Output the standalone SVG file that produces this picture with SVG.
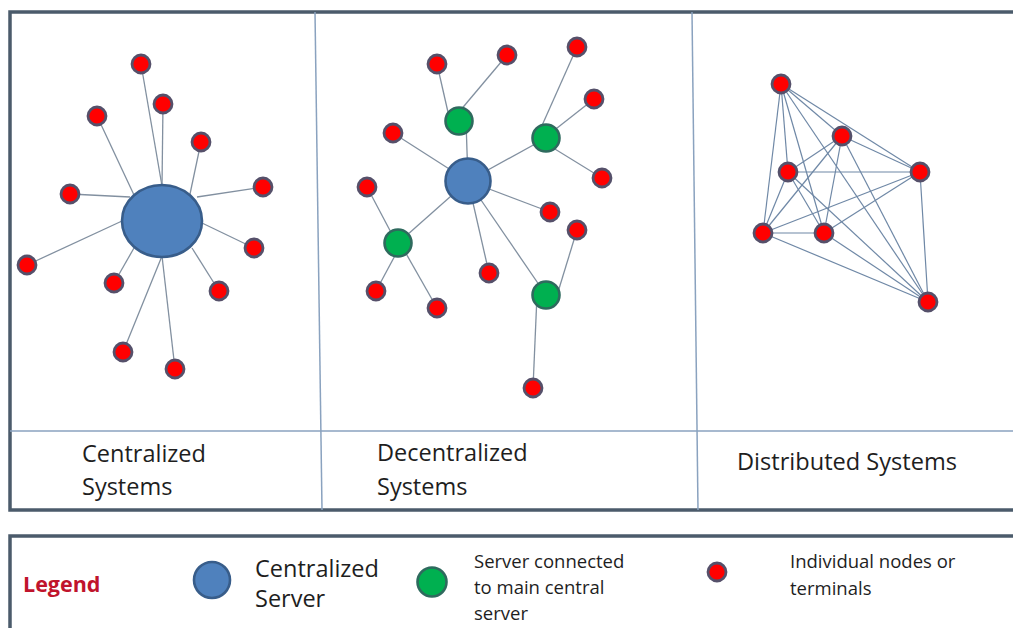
<svg xmlns="http://www.w3.org/2000/svg" width="1013" height="628" viewBox="0 0 1013 628">
<style>
.frame{fill:#ffffff;stroke:#4b5b6b;stroke-width:3.5}
.div{fill:none;stroke:#8aa2bf;stroke-width:1.5}
.edge{stroke:#8290a0;stroke-width:1.3;fill:none}
.edge2{stroke:#6f88a6;stroke-width:1.2;fill:none}
.red{fill:#ff0000;stroke:#55506a;stroke-width:2.8}
.green{fill:#00b050;stroke:#2f6a5e;stroke-width:2.6}
.blue{fill:#4f81bd;stroke:#385d8a;stroke-width:2.6}
.lbl{font-family:"Open Sans","Liberation Sans",sans-serif;font-size:23.5px;fill:#1e1e1e}
.leg{font-family:"Open Sans","Liberation Sans",sans-serif;font-size:18.5px;fill:#1e1e1e}
.legt{font-family:"Open Sans","Liberation Sans",sans-serif;font-size:21.5px;font-weight:bold;fill:#c0142c}
</style>
<rect x="0" y="0" width="1013" height="628" fill="#ffffff"/>
<g id="frame">
<rect class="frame" x="10" y="12" width="1020" height="498"/>
<line class="div" x1="10" y1="431" x2="1013" y2="431"/>
<line class="div" x1="315" y1="12" x2="322" y2="510"/>
<line class="div" x1="692" y1="12" x2="698" y2="510"/>
</g>
<g id="legend-box">
<rect class="frame" x="10" y="536" width="1020" height="110"/>
</g>
<g id="connectors">
<line class="edge" x1="141" y1="64" x2="162" y2="186"/>
<line class="edge" x1="163" y1="104" x2="162" y2="186"/>
<line class="edge" x1="97" y1="116" x2="134" y2="195"/>
<line class="edge" x1="201" y1="142" x2="190" y2="194"/>
<line class="edge" x1="70" y1="194" x2="130" y2="197"/>
<line class="edge" x1="263" y1="187" x2="197" y2="197"/>
<line class="edge" x1="27" y1="265" x2="122" y2="221"/>
<line class="edge" x1="254" y1="248" x2="202" y2="223"/>
<line class="edge" x1="114" y1="283" x2="134" y2="248"/>
<line class="edge" x1="219" y1="291" x2="192" y2="248"/>
<line class="edge" x1="123" y1="352" x2="162" y2="256"/>
<line class="edge" x1="175" y1="369" x2="162" y2="256"/>
<line class="edge" x1="468" y1="181" x2="466" y2="121"/>
<line class="edge" x1="468" y1="181" x2="546" y2="138"/>
<line class="edge" x1="468" y1="181" x2="398" y2="243"/>
<line class="edge" x1="468" y1="181" x2="546" y2="295"/>
<line class="edge" x1="468" y1="181" x2="393" y2="133"/>
<line class="edge" x1="468" y1="181" x2="550" y2="212"/>
<line class="edge" x1="468" y1="181" x2="489" y2="273"/>
<line class="edge" x1="437" y1="64" x2="450" y2="121"/>
<line class="edge" x1="507" y1="55" x2="459" y2="112"/>
<line class="edge" x1="577" y1="47" x2="540" y2="130"/>
<line class="edge" x1="594" y1="99" x2="552" y2="132"/>
<line class="edge" x1="602" y1="178" x2="550" y2="146"/>
<line class="edge" x1="367" y1="187" x2="395" y2="240"/>
<line class="edge" x1="376" y1="291" x2="398" y2="250"/>
<line class="edge" x1="437" y1="308" x2="404" y2="250"/>
<line class="edge" x1="577" y1="230" x2="558" y2="292"/>
<line class="edge" x1="533" y1="388" x2="537" y2="295"/>
<line class="edge2" x1="781" y1="84" x2="842" y2="136"/>
<line class="edge2" x1="781" y1="84" x2="788" y2="172"/>
<line class="edge2" x1="781" y1="84" x2="920" y2="172"/>
<line class="edge2" x1="781" y1="84" x2="763" y2="233"/>
<line class="edge2" x1="781" y1="84" x2="824" y2="233"/>
<line class="edge2" x1="781" y1="84" x2="928" y2="302"/>
<line class="edge2" x1="842" y1="136" x2="788" y2="172"/>
<line class="edge2" x1="842" y1="136" x2="920" y2="172"/>
<line class="edge2" x1="842" y1="136" x2="763" y2="233"/>
<line class="edge2" x1="842" y1="136" x2="824" y2="233"/>
<line class="edge2" x1="842" y1="136" x2="928" y2="302"/>
<line class="edge2" x1="788" y1="172" x2="920" y2="172"/>
<line class="edge2" x1="788" y1="172" x2="763" y2="233"/>
<line class="edge2" x1="788" y1="172" x2="824" y2="233"/>
<line class="edge2" x1="788" y1="172" x2="928" y2="302"/>
<line class="edge2" x1="920" y1="172" x2="763" y2="233"/>
<line class="edge2" x1="920" y1="172" x2="824" y2="233"/>
<line class="edge2" x1="920" y1="172" x2="928" y2="302"/>
<line class="edge2" x1="763" y1="233" x2="824" y2="233"/>
<line class="edge2" x1="763" y1="233" x2="928" y2="302"/>
<line class="edge2" x1="824" y1="233" x2="928" y2="302"/>
</g>
<g id="centralized">
<g id="c-server"><ellipse class="blue" cx="162" cy="221" rx="40" ry="36"/></g>
<g id="c-n1"><circle class="red" cx="141" cy="64" r="9"/></g>
<g id="c-n2"><circle class="red" cx="163" cy="104" r="9"/></g>
<g id="c-n3"><circle class="red" cx="97" cy="116" r="9"/></g>
<g id="c-n4"><circle class="red" cx="201" cy="142" r="9"/></g>
<g id="c-n5"><circle class="red" cx="70" cy="194" r="9"/></g>
<g id="c-n6"><circle class="red" cx="263" cy="187" r="9"/></g>
<g id="c-n7"><circle class="red" cx="27" cy="265" r="9"/></g>
<g id="c-n8"><circle class="red" cx="254" cy="248" r="9"/></g>
<g id="c-n9"><circle class="red" cx="114" cy="283" r="9"/></g>
<g id="c-n10"><circle class="red" cx="219" cy="291" r="9"/></g>
<g id="c-n11"><circle class="red" cx="123" cy="352" r="9"/></g>
<g id="c-n12"><circle class="red" cx="175" cy="369" r="9"/></g>
</g>
<g id="decentralized">
<g id="d-server"><circle class="blue" cx="468" cy="181" r="22.5"/></g>
<g id="d-g1"><circle class="green" cx="459" cy="121" r="13.5"/></g>
<g id="d-g2"><circle class="green" cx="546" cy="138" r="13.5"/></g>
<g id="d-g3"><circle class="green" cx="398" cy="243" r="13.5"/></g>
<g id="d-g4"><circle class="green" cx="546" cy="295" r="13.5"/></g>
<g id="d-n1"><circle class="red" cx="437" cy="64" r="9"/></g>
<g id="d-n2"><circle class="red" cx="507" cy="55" r="9"/></g>
<g id="d-n3"><circle class="red" cx="577" cy="47" r="9"/></g>
<g id="d-n4"><circle class="red" cx="594" cy="99" r="9"/></g>
<g id="d-n5"><circle class="red" cx="393" cy="133" r="9"/></g>
<g id="d-n6"><circle class="red" cx="602" cy="178" r="9"/></g>
<g id="d-n7"><circle class="red" cx="367" cy="187" r="9"/></g>
<g id="d-n8"><circle class="red" cx="550" cy="212" r="9"/></g>
<g id="d-n9"><circle class="red" cx="577" cy="230" r="9"/></g>
<g id="d-n10"><circle class="red" cx="489" cy="273" r="9"/></g>
<g id="d-n11"><circle class="red" cx="376" cy="291" r="9"/></g>
<g id="d-n12"><circle class="red" cx="437" cy="308" r="9"/></g>
<g id="d-n13"><circle class="red" cx="533" cy="388" r="9"/></g>
</g>
<g id="distributed">
<g id="x-n1"><circle class="red" cx="781" cy="84" r="9"/></g>
<g id="x-n2"><circle class="red" cx="842" cy="136" r="9"/></g>
<g id="x-n3"><circle class="red" cx="788" cy="172" r="9"/></g>
<g id="x-n4"><circle class="red" cx="920" cy="172" r="9"/></g>
<g id="x-n5"><circle class="red" cx="763" cy="233" r="9"/></g>
<g id="x-n6"><circle class="red" cx="824" cy="233" r="9"/></g>
<g id="x-n7"><circle class="red" cx="928" cy="302" r="9"/></g>
</g>
<g id="labels">
<text class="lbl" x="82" y="462">Centralized</text>
<text class="lbl" x="82" y="495">Systems</text>
<text class="lbl" x="377" y="461">Decentralized</text>
<text class="lbl" x="377" y="495">Systems</text>
<text class="lbl" x="737" y="470" textLength="220" lengthAdjust="spacingAndGlyphs">Distributed Systems</text>
</g>
<g id="legend">
<text class="legt" x="23" y="592">Legend</text>
<g id="leg-blue"><circle class="blue" cx="212" cy="580" r="18"/></g>
<text class="lbl" x="255" y="577">Centralized</text>
<text class="lbl" x="255" y="607">Server</text>
<g id="leg-green"><circle class="green" cx="432" cy="582" r="14.5"/></g>
<text class="leg" x="474" y="568">Server connected</text>
<text class="leg" x="474" y="594">to main central</text>
<text class="leg" x="474" y="620">server</text>
<g id="leg-red"><circle class="red" cx="717" cy="572" r="9"/></g>
<text class="leg" x="790" y="568">Individual nodes or</text>
<text class="leg" x="790" y="595">terminals</text>
</g>
</svg>
